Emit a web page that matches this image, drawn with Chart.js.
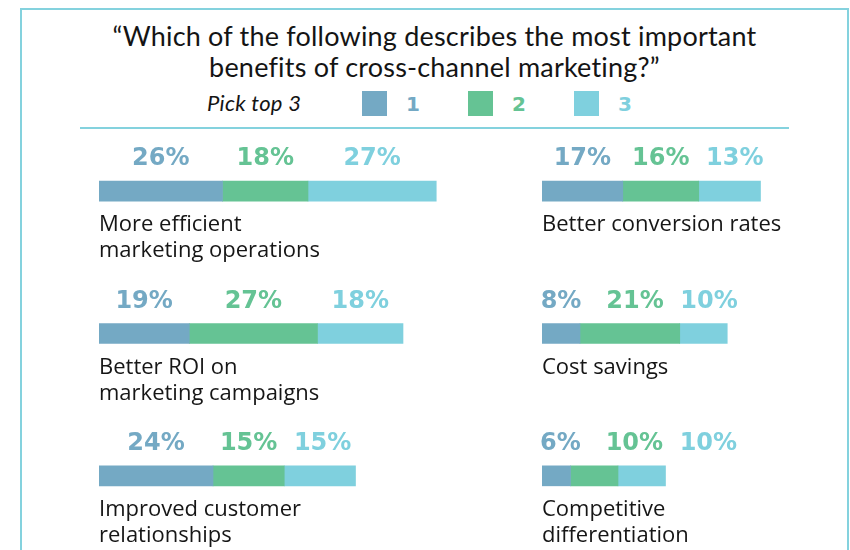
<!DOCTYPE html>
<html>
<head>
<meta charset="utf-8">
<script src="https://cdn.jsdelivr.net/npm/chart.js@4"></script>
<style>
  body{margin:0;width:850px;height:550px;overflow:hidden;background:#fff;position:relative;font-family:Lato,sans-serif;color:#141414}
  .frame{position:absolute;left:20px;top:8px;width:829px;height:600px;border:2.5px solid #84d2de;box-sizing:border-box}
  .title{position:absolute;left:20px;top:20px;width:829px;text-align:center;font-size:27px;line-height:31px;letter-spacing:0.2px}
  .pick{position:absolute;left:207px;top:89px;font-style:italic;font-size:22px;line-height:28px;letter-spacing:0.3px}
  .sw{position:absolute;top:91px;width:25px;height:25px}
  .lg{position:absolute;top:90px;font-family:"DejaVu Sans",sans-serif;font-weight:bold;font-size:20px;line-height:28px}
  .rule{position:absolute;left:80px;top:126.5px;width:709px;height:2.5px;background:#84d2de}
  canvas{position:absolute;top:110px}
</style>
</head>
<body>
<div class="frame"></div>
<div class="title">“Which of the following describes the most important<br>benefits of cross-channel marketing?”</div>
<div class="pick">Pick top 3</div>
<div id="legend"></div>
<div class="rule"></div>
<canvas id="leftChart" width="410" height="440" style="left:89px"></canvas>
<canvas id="rightChart" width="318" height="440" style="left:532px"></canvas>
<script>
const seriesNames  = ['1', '2', '3'];
const seriesColors = ['#74a9c4', '#65c394', '#7fd0de'];

// left column
const categoriesLeft = [['More efficient', 'marketing operations'], ['Better ROI on', 'marketing campaigns'], ['Improved customer', 'relationships']];
const rank1Left = [26, 19, 24];
const rank2Left = [18, 27, 15];
const rank3Left = [27, 18, 15];

// right column
const categoriesRight = [['Better conversion rates'], ['Cost savings'], ['Competitive', 'differentiation']];
const rank1Right = [17, 8, 6];
const rank2Right = [16, 21, 10];
const rank3Right = [13, 10, 10];

const PX_PER_PCT = 4.75;
const MIN_GAP = 74;

// legend (html)
const legendX = [362, 468, 574];
document.getElementById('legend').innerHTML = seriesNames.map((s, i) =>
  `<div class="sw" style="left:${legendX[i]}px;background:${seriesColors[i]}"></div>` +
  `<div class="lg" style="left:${legendX[i] + 44}px;color:${seriesColors[i]}">${s}</div>`
).join('');

const segmentLabels = {
  id: 'segmentLabels',
  afterDatasetsDraw(chart) {
    const ctx = chart.ctx;
    chart.data.labels.forEach((lines, i) => {
      const bars = chart.data.datasets.map((ds, d) => chart.getDatasetMeta(d).data[i]);
      ctx.save();
      ctx.font = 'bold 24px "DejaVu Sans"';
      ctx.textAlign = 'center';
      ctx.textBaseline = 'middle';
      let prev = -Infinity;
      bars.forEach((bar, d) => {
        const txt = chart.data.datasets[d].data[i] + '%';
        const w = ctx.measureText(txt).width;
        let cx = (bar.base + bar.x) / 2;
        if (d === 0) cx = Math.max(cx, bar.base + w / 2 - 2);
        cx = Math.max(cx, prev + MIN_GAP);
        prev = cx;
        ctx.fillStyle = seriesColors[d];
        ctx.fillText(txt, cx, bar.y - bar.height / 2 - 22);
      });
      // category name under the bar
      const b0 = bars[0];
      ctx.font = '22px "Open Sans"';
      ctx.textAlign = 'left';
      ctx.fillStyle = '#161616';
      lines.forEach((ln, k) => ctx.fillText(ln, b0.base, b0.y + b0.height / 2 + 24 + k * 26));
      ctx.restore();
    });
  }
};

function makeChart(id, labels, r1, r2, r3) {
  const canvas = document.getElementById(id);
  const pad = {left: 10, right: 1, top: 10, bottom: 3};
  const xMax = (canvas.width - pad.left - pad.right) / PX_PER_PCT;
  return new Chart(canvas, {
    type: 'bar',
    data: {
      labels: labels,
      datasets: [r1, r2, r3].map((vals, i) => ({
        label: seriesNames[i],
        data: vals,
        backgroundColor: seriesColors[i],
        borderWidth: 0,
        barThickness: 20
      }))
    },
    options: {
      indexAxis: 'y',
      responsive: false,
      animation: false,
      devicePixelRatio: 1,
      layout: {padding: pad},
      plugins: {legend: {display: false}, tooltip: {enabled: false}},
      scales: {
        x: {stacked: true, display: false, min: 0, max: xMax},
        y: {stacked: true, display: false}
      }
    },
    plugins: [segmentLabels]
  });
}

makeChart('leftChart', categoriesLeft, rank1Left, rank2Left, rank3Left);
makeChart('rightChart', categoriesRight, rank1Right, rank2Right, rank3Right);
</script>
</body>
</html>
